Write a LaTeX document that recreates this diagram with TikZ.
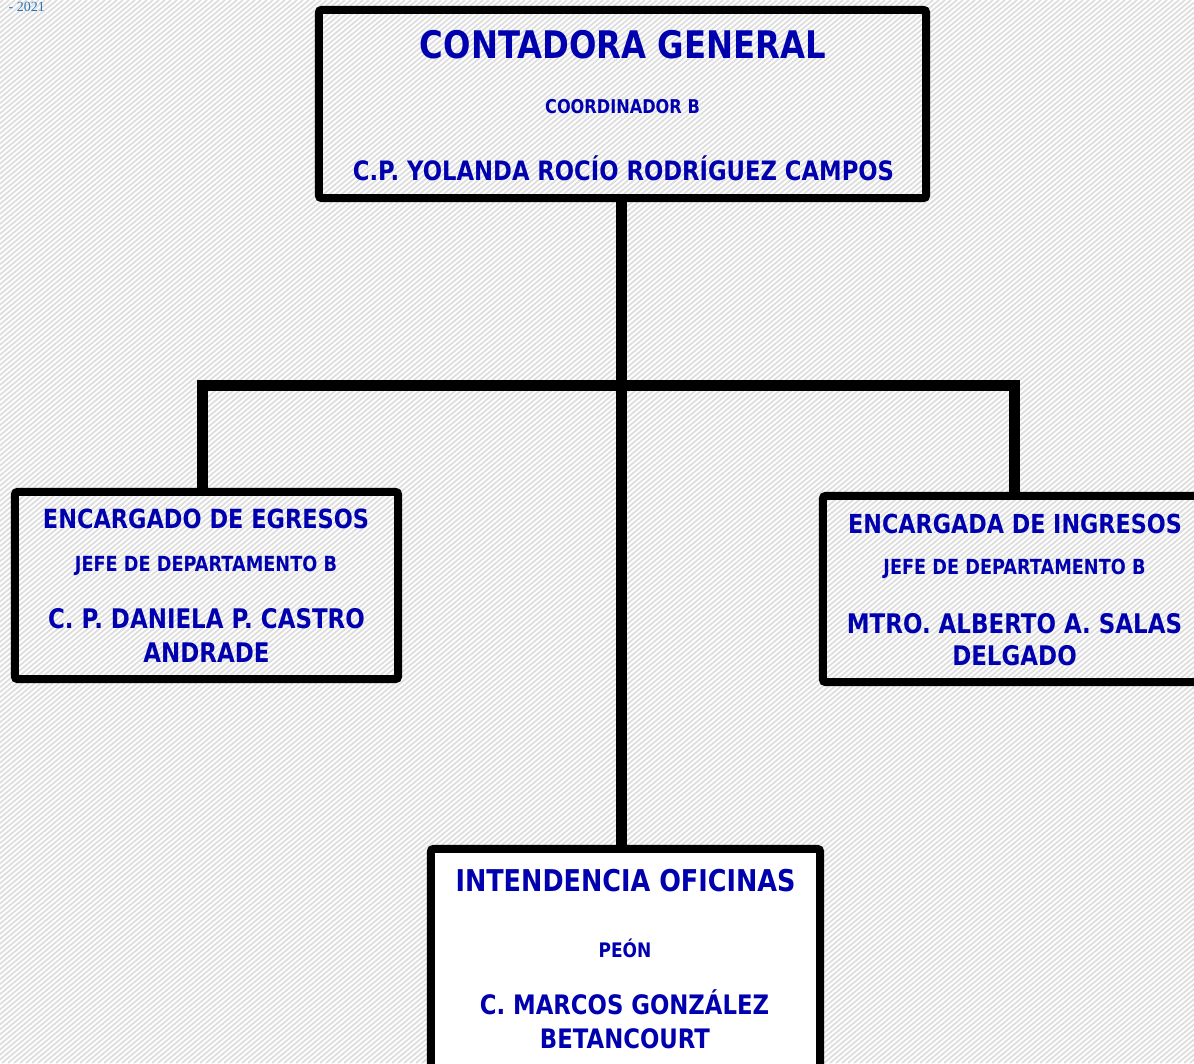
\documentclass[tikz,border=0pt]{standalone}
\usepackage{fontspec}
\setmainfont{DejaVu Sans}[FakeStretch=0.85]
\newfontfamily\yearfont{Liberation Serif}
\definecolor{txtblue}{RGB}{0,0,175}
\definecolor{yearblue}{RGB}{46,116,181}
\definecolor{hatchgray}{RGB}{222,222,222}
\begin{document}
\begin{tikzpicture}[x=1pt,y=-1pt,
  box/.style={draw=black,line width=8pt,rounded corners=3pt,inner sep=0pt,outer sep=0pt},
  conn/.style={draw=black,line width=11pt,line join=miter},
  lbl/.style={text=txtblue,inner sep=0pt,anchor=base,font=\bfseries\fontsize{#1}{#1}\selectfont},
  hatch/.style={draw=hatchgray,line width=1.8pt}
]
\useasboundingbox (0,0) rectangle (1194,1063);
\begin{scope}
  \clip (0,0) rectangle (1194,1063);
  \fill[white] (0,0) rectangle (1194,1063);
  \foreach \i in {-1270,-1264,...,1194} \draw[hatch] (\i,1063) -- ++(1267,-1063);

  % junction coordinates
  \coordinate (j) at (621,385);
  \coordinate (lj) at (202,385);
  \coordinate (rj) at (1014.5,385);

  % boxes (positions)
  \path (622.5,104) node[minimum width=607pt,minimum height=188pt,inner sep=0pt] (top) {};
  \path (206.5,585.5) node[minimum width=383pt,minimum height=187pt,inner sep=0pt] (left) {};
  \path (1014,589) node[minimum width=382pt,minimum height=186pt,inner sep=0pt] (right) {};
  \path (625.5,964.5) node[minimum width=389pt,minimum height=231pt,inner sep=0pt] (bot) {};

  % connectors
  \draw[conn] (top.south -| j) -- (bot.north -| j);
  \draw[conn] (left.north -| lj) -- (lj) -- (rj) -- (right.north -| rj);

  % box outlines
  \draw[box] (top.south west) rectangle (top.north east);
  \draw[box] (left.south west) rectangle (left.north east);
  \draw[box] (right.south west) rectangle (right.north east);
  \draw[box,fill=white] (bot.south west) rectangle (bot.north east);

  % texts
  \node[lbl=38] (t1) at (623,58) {CONTADORA GENERAL};
  \node[lbl=19] (t2) at (622.5,113) {COORDINADOR B};
  \node[lbl=26.7] (t3) at (623.5,180) {C.P. YOLANDA ROCÍO RODRÍGUEZ CAMPOS};

  \node[lbl=26.4] (l1) at (206,528) {ENCARGADO DE EGRESOS};
  \node[lbl=20.8] (l2) at (206,571) {JEFE DE DEPARTAMENTO B};
  \node[lbl=27] (l3) at (206.5,628) {C. P. DANIELA P. CASTRO};
  \node[lbl=27] (l4) at (206.5,662) {ANDRADE};

  \node[lbl=26.2] (r1) at (1015,533) {ENCARGADA DE INGRESOS};
  \node[lbl=20.8] (r2) at (1014.5,574) {JEFE DE DEPARTAMENTO B};
  \node[lbl=27] (r3) at (1014.5,633) {MTRO. ALBERTO A. SALAS};
  \node[lbl=27] (r4) at (1014.5,665) {DELGADO};

  \node[lbl=30] (b1) at (625.5,891) {INTENDENCIA OFICINAS};
  \node[lbl=20] (b2) at (625,957) {PEÓN};
  \node[lbl=26.8] (b3) at (624.5,1014) {C. MARCOS GONZÁLEZ};
  \node[lbl=26.8] (b4) at (625,1048) {BETANCOURT};

  \node[font=\yearfont\fontsize{14}{14}\selectfont,text=yearblue,anchor=base east,inner sep=0pt] (year) at (45,11) {- 2021};
\end{scope}
\end{tikzpicture}
\end{document}
